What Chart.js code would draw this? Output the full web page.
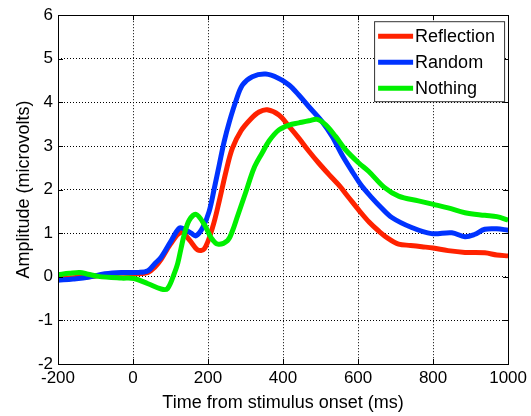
<!DOCTYPE html>
<html>
<head>
<meta charset="utf-8">
<script src="https://cdn.jsdelivr.net/npm/chart.js@4/dist/chart.umd.min.js"></script>
<style>
  html, body { margin: 0; padding: 0; background: #fff; }
  #wrap { width: 531px; height: 416px; }
</style>
</head>
<body>
<div id="wrap"><canvas id="erp" width="531" height="416"></canvas></div>
<script>
// values (ms, microvolts)
const reflectionT = [-200, -160, -120, -75, -31, 15, 40, 58, 75, 100, 128, 150, 172, 190, 212, 230, 248, 265, 288, 314, 336, 358, 389, 416, 442, 469, 495, 522, 549, 575, 602, 630, 655, 680, 708, 740, 770, 800, 840, 885, 938, 970, 1000];
const reflectionV = [-0.05, -0.02, 0.0, 0.05, 0.08, 0.07, 0.1, 0.22, 0.4, 0.75, 1.02, 0.85, 0.62, 0.64, 1.13, 1.74, 2.42, 2.95, 3.35, 3.62, 3.78, 3.83, 3.71, 3.45, 3.18, 2.88, 2.61, 2.35, 2.1, 1.82, 1.53, 1.25, 1.05, 0.88, 0.75, 0.72, 0.69, 0.66, 0.6, 0.56, 0.55, 0.5, 0.48];

const randomT = [-200, -160, -120, -75, -31, 15, 40, 58, 75, 100, 124, 140, 155, 168, 186, 203, 217, 230, 243, 257, 275, 292, 318, 354, 389, 416, 442, 469, 504, 531, 557, 584, 610, 637, 660, 690, 743, 796, 850, 885, 910, 938, 970, 1000];
const randomV = [-0.08, -0.05, -0.01, 0.07, 0.1, 0.1, 0.14, 0.3, 0.45, 0.8, 1.12, 1.08, 1.0, 0.94, 1.13, 1.5, 2.04, 2.57, 3.1, 3.56, 4.05, 4.4, 4.59, 4.65, 4.55, 4.4, 4.17, 3.9, 3.56, 3.22, 2.8, 2.42, 2.08, 1.81, 1.6, 1.36, 1.13, 0.99, 1.01, 0.92, 0.97, 1.09, 1.1, 1.07];

const nothingT = [-200, -170, -142, -120, -93, -31, 3, 40, 75, 92, 111, 119, 128, 137, 150, 168, 190, 208, 226, 252, 265, 279, 301, 323, 345, 363, 389, 416, 442, 469, 491, 513, 540, 566, 602, 628, 670, 708, 761, 801, 840, 885, 938, 970, 1000];
const nothingV = [0.05, 0.08, 0.1, 0.06, 0.01, -0.03, -0.04, -0.16, -0.28, -0.27, 0.1, 0.3, 0.65, 0.98, 1.3, 1.43, 1.2, 0.9, 0.75, 0.83, 1.05, 1.4, 1.95, 2.5, 2.85, 3.12, 3.37, 3.48, 3.53, 3.58, 3.61, 3.49, 3.22, 2.92, 2.61, 2.42, 2.05, 1.85, 1.74, 1.66, 1.58, 1.47, 1.41, 1.38, 1.3];

const xTicks = [-200, 0, 200, 400, 600, 800, 1000];
const yTicks = [-2, -1, 0, 1, 2, 3, 4, 5, 6];

const toPoints = (t, v) => t.map((x, i) => ({ x: x, y: v[i] }));

const FONT = "'Liberation Sans', Arial, Helvetica, sans-serif";

// matlab style box, inward ticks and legend
const matlabBox = {
  id: "matlabBox",
  afterDraw(chart) {
    const ctx = chart.ctx;
    const a = chart.chartArea;
    const xs = chart.scales.x;
    const ys = chart.scales.y;
    const len = 5;
    ctx.save();
    ctx.strokeStyle = "#000";
    ctx.lineWidth = 1;
    ctx.beginPath();
    xTicks.forEach((v) => {
      const px = Math.round(xs.getPixelForValue(v)) + 0.5;
      ctx.moveTo(px, a.bottom);
      ctx.lineTo(px, a.bottom - len);
      ctx.moveTo(px, a.top);
      ctx.lineTo(px, a.top + len);
    });
    yTicks.forEach((v) => {
      const py = Math.round(ys.getPixelForValue(v)) + 0.5;
      ctx.moveTo(a.left, py);
      ctx.lineTo(a.left + len, py);
      ctx.moveTo(a.right, py);
      ctx.lineTo(a.right - len, py);
    });
    ctx.stroke();
    ctx.strokeRect(Math.round(a.left) + 0.5, Math.round(a.top) + 0.5,
      Math.round(a.right - a.left), Math.round(a.bottom - a.top));

    // legend box in the top right corner
    const bx = a.right - 134, by = a.top + 6, bw = 130, bh = 80;
    ctx.fillStyle = "#fff";
    ctx.fillRect(bx, by, bw, bh);
    ctx.strokeStyle = "#333";
    ctx.strokeRect(bx + 0.5, by + 0.5, bw, bh);
    ctx.font = "18px " + FONT;
    ctx.textBaseline = "middle";
    const labels = ["Reflection", "Random", "Nothing"];
    labels.forEach((lab, i) => {
      const ds = chart.data.datasets.find((d) => d.label === lab);
      const cy = by + 15 + i * 26;
      ctx.strokeStyle = ds.borderColor;
      ctx.lineWidth = 5;
      ctx.beginPath();
      ctx.moveTo(bx + 4, cy);
      ctx.lineTo(bx + 39, cy);
      ctx.stroke();
      ctx.fillStyle = "#000";
      ctx.fillText(lab, bx + 41, cy + 1);
    });
    ctx.restore();
  },
};

const line = (label, t, v, color, order) => ({
  label: label,
  data: toPoints(t, v),
  borderColor: color,
  borderWidth: 5,
  pointRadius: 0,
  fill: false,
  tension: 0.35,
  order: order,
});

new Chart(document.getElementById("erp"), {
  type: "line",
  data: {
    datasets: [
      line("Reflection", reflectionT, reflectionV, "#ff2200", 3),
      line("Random", randomT, randomV, "#0033ff", 2),
      line("Nothing", nothingT, nothingV, "#00f000", 1),
    ],
  },
  options: {
    responsive: false,
    animation: false,
    layout: { padding: { top: 13, right: 21, left: 0, bottom: 0 } },
    plugins: {
      legend: { display: false },
      tooltip: { enabled: false },
    },
    scales: {
      x: {
        type: "linear",
        min: -200,
        max: 1000,
        afterBuildTicks: (s) => { s.ticks = xTicks.map((v) => ({ value: v })); },
        afterFit: (s) => { s.height = 52; },
        grid: { color: "#000", drawTicks: false, lineWidth: 1 },
        border: { display: false, dash: [1, 2] },
        ticks: {
          color: "#000",
          font: { family: FONT, size: 17 },
          padding: 4,
          maxRotation: 0,
          callback: (v) => String(v),
        },
        title: {
          display: true,
          text: "Time from stimulus onset (ms)",
          color: "#000",
          font: { family: FONT, size: 18 },
          padding: { top: 0, bottom: 2 },
        },
      },
      y: {
        type: "linear",
        min: -2,
        max: 6,
        afterBuildTicks: (s) => { s.ticks = yTicks.map((v) => ({ value: v })); },
        afterFit: (s) => { s.width = 58; },
        grid: { color: "#000", drawTicks: false, lineWidth: 1 },
        border: { display: false, dash: [1, 2] },
        ticks: {
          color: "#000",
          font: { family: FONT, size: 17 },
          padding: 5,
          callback: (v) => String(v),
        },
        title: {
          display: true,
          text: "Amplitude (microvolts)",
          color: "#000",
          font: { family: FONT, size: 18 },
          padding: { top: 13, bottom: 0 },
        },
      },
    },
  },
  plugins: [matlabBox],
});
</script>
</body>
</html>
